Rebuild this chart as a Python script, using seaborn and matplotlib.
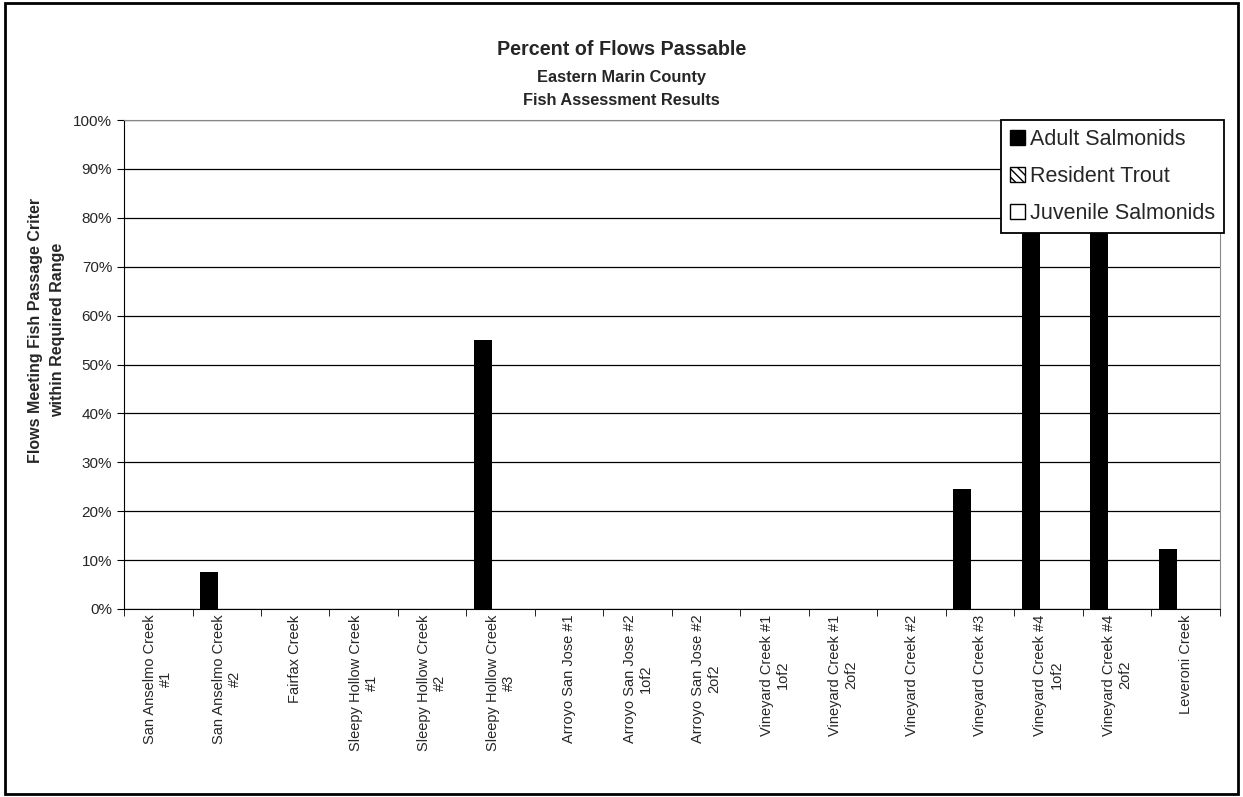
import pandas as pd
import matplotlib.pyplot as plt
import seaborn as sns
from matplotlib.patches import Rectangle
from matplotlib.ticker import PercentFormatter, FixedLocator

# Data (percent of flows passable)
sites = ['San Anselmo Creek\n#1', 'San Anselmo Creek\n#2', 'Fairfax Creek',
         'Sleepy Hollow Creek\n#1', 'Sleepy Hollow Creek\n#2', 'Sleepy Hollow Creek\n#3',
         'Arroyo San Jose #1', 'Arroyo San Jose #2\n1of2', 'Arroyo San Jose #2\n2of2',
         'Vineyard Creek #1\n1of2', 'Vineyard Creek #1\n2of2', 'Vineyard Creek #2',
         'Vineyard Creek #3', 'Vineyard Creek #4\n1of2', 'Vineyard Creek #4\n2of2',
         'Leveroni Creek']
# Vineyard #4 bars run up under the legend; their tops are hidden
adult_salmonids = [0, 7.5, 0, 0, 0, 55, 0, 0, 0, 0, 0, 0, 24.5, 90, 90, 12.3]
resident_trout = [0] * 16
juvenile_salmonids = [0] * 16
species = ['Adult Salmonids', 'Resident Trout', 'Juvenile Salmonids']

df = pd.DataFrame({
    'site': sites * 3,
    'species': [species[0]] * 16 + [species[1]] * 16 + [species[2]] * 16,
    'pct': adult_salmonids + resident_trout + juvenile_salmonids,
})

sns.set_style("white")
plt.rcParams['font.family'] = ['Liberation Sans', 'DejaVu Sans']

fig = plt.figure(figsize=(12.43, 7.97), dpi=100)
ax = fig.add_axes([0.0998, 0.2359, 0.8815, 0.6135])

palette = {'Adult Salmonids': 'black', 'Resident Trout': 'white', 'Juvenile Salmonids': 'white'}
sns.barplot(data=df, x='site', y='pct', hue='species', palette=palette,
            edgecolor='black', linewidth=0, ax=ax, width=0.78, legend=False)

ax.set_ylim(0, 100)
ax.set_xlim(-0.5, len(sites) - 0.5)
ax.set_yticks(range(0, 101, 10))
ax.yaxis.set_major_formatter(PercentFormatter(decimals=0))
ax.grid(axis='y', color='black', linewidth=0.9)
ax.set_axisbelow(True)

# category ticks sit between groups
ax.xaxis.set_minor_locator(FixedLocator([i - 0.5 for i in range(len(sites) + 1)]))
ax.tick_params(axis='x', which='major', length=0, labelsize=10.5, rotation=90, pad=4)
ax.tick_params(axis='x', which='minor', length=5, direction='out', color='black', bottom=True)
ax.tick_params(axis='y', length=5, direction='out', color='black', labelsize=11, left=True)
for lbl in ax.get_xticklabels():
    lbl.set_multialignment('center')
    lbl.set_verticalalignment('top')

ax.set_xlabel('')
ax.set_ylabel('Flows Meeting Fish Passage Criter\nwithin Required Range',
              fontsize=11.5, fontweight='bold', linespacing=1.6)
ax.yaxis.set_label_coords(-0.054, 0.57)

for side in ['top', 'right']:
    ax.spines[side].set_color('#888888')
for side in ['left', 'bottom']:
    ax.spines[side].set_color('black')

# title block
fig.text(0.5, 0.9385, 'Percent of Flows Passable', ha='center', va='center',
         fontsize=14.2, fontweight='bold')
fig.text(0.5, 0.903, 'Eastern Marin County', ha='center', va='center',
         fontsize=11.8, fontweight='bold')
fig.text(0.5, 0.8745, 'Fish Assessment Results', ha='center', va='center',
         fontsize=11.8, fontweight='bold')

# legend
handles = [Rectangle((0, 0), 1, 1, facecolor='black', edgecolor='black'),
           Rectangle((0, 0), 1, 1, facecolor='white', edgecolor='black', hatch='\\\\\\\\'),
           Rectangle((0, 0), 1, 1, facecolor='white', edgecolor='black')]
leg = ax.legend(handles, species, loc='upper right', bbox_to_anchor=(1.004, 1.0),
                fontsize=15.5, frameon=True, fancybox=False, framealpha=1,
                handlelength=0.7, handleheight=0.7, handletextpad=0.25,
                labelspacing=0.76, borderpad=0.4, borderaxespad=0)
leg.get_frame().set_edgecolor('black')
leg.get_frame().set_linewidth(1.3)

# outer frame of the picture
fig.patches.append(Rectangle((0.004, 0.004), 0.992, 0.992, transform=fig.transFigure,
                             fill=False, edgecolor='black', linewidth=2))

fig.savefig('out.png', dpi=100)
